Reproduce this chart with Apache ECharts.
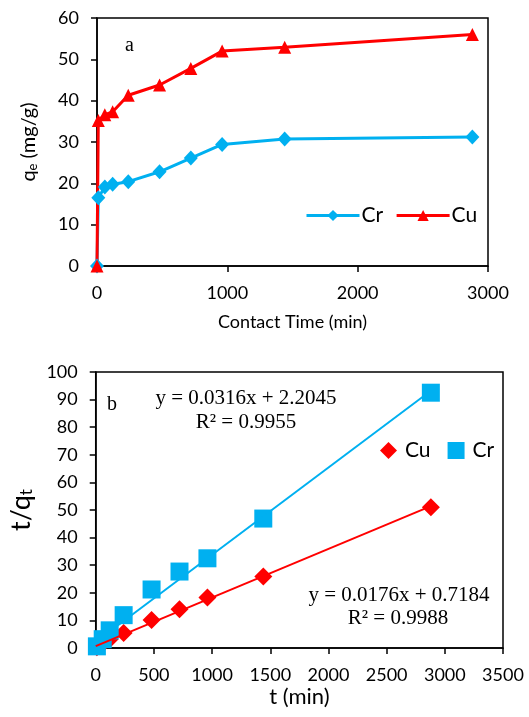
<!DOCTYPE html>
<html><head><meta charset="utf-8">
<script src="https://cdn.jsdelivr.net/npm/echarts@6/dist/echarts.min.js"></script>
<style>html,body{margin:0;padding:0;background:#fff}#c{width:529px;height:717px}</style>
</head><body><div id="c"></div>
<script>
// (a) adsorption kinetics
const timeA = [0, 10, 60, 120, 240, 480, 720, 960, 1440, 2880];
const qCr   = [0, 16.5, 19.1, 19.8, 20.4, 22.8, 26.1, 29.4, 30.7, 31.2];
const qCu   = [0, 35.2, 36.6, 37.3, 41.3, 43.8, 47.8, 52.0, 52.9, 56.0];
// (b) pseudo-second-order t/qt
const timeB = [10, 60, 120, 240, 480, 720, 960, 1440, 2880];
const tqCu  = [0.3, 1.6, 3.2, 5.4, 10.1, 14.0, 18.3, 25.9, 51.0];
const tqCr  = [0.6, 3.2, 6.4, 11.9, 21.2, 27.7, 32.5, 46.9, 92.5];
// trendline end points (as drawn)
const fitX  = [0, 2880];
const fitCu = [0.7, 51.4];
const fitCr = [2.2, 93.2];

const BLUE = '#00B0F0', RED = '#FF0000';
const FONT = 'Lato';
const zip = (a, b) => a.map((v, i) => [v, b[i]]);

const chart = echarts.init(document.getElementById('c'), null, {renderer: 'canvas'});
const axisCommon = {
  axisLine: {show: true, lineStyle: {color: '#000', width: 1.5}},
  axisTick: {show: true, inside: false, length: 6, lineStyle: {color: '#000', width: 1.5}},
  splitLine: {show: false},
  axisLabel: {color: '#000', fontFamily: FONT, fontSize: 18, margin: 18, formatter: v => String(v)}
};
chart.setOption({
  animation: false,
  grid: [
    {left: 97, top: 18, width: 391, height: 248, show: true, borderColor: '#000', borderWidth: 1.5},
    {left: 91, top: 372, width: 412, height: 276, show: true, borderColor: '#000', borderWidth: 1.5}
  ],
  xAxis: [
    Object.assign({}, axisCommon, {gridIndex: 0, type: 'value', min: 0, max: 3000, interval: 1000,
      name: 'Contact Time (min)', nameLocation: 'middle', nameGap: 47,
      nameTextStyle: {fontFamily: FONT, fontSize: 18, color: '#000'}}),
    Object.assign({}, axisCommon, {gridIndex: 1, type: 'value', min: 0, max: 3500, interval: 500,
      name: 't (min)', nameLocation: 'middle', nameGap: 38,
      nameTextStyle: {fontFamily: FONT, fontSize: 22, color: '#000'}})
  ],
  yAxis: [
    Object.assign({}, axisCommon, {gridIndex: 0, type: 'value', min: 0, max: 60, interval: 10,
      name: 'q{sub|e} (mg/g)', nameLocation: 'middle', nameGap: 58,
      nameTextStyle: {fontFamily: FONT, fontSize: 20, color: '#000',
        rich: {sub: {fontFamily: FONT, fontSize: 13, color: '#000', verticalAlign: 'bottom', padding: [8, 0, 0, 0]}}}}),
    Object.assign({}, axisCommon, {gridIndex: 1, type: 'value', min: 0, max: 100, interval: 10,
      name: 't/q{sub|t}', nameLocation: 'middle', nameGap: 50,
      nameTextStyle: {fontFamily: FONT, fontSize: 27, color: '#000',
        rich: {sub: {fontFamily: FONT, fontSize: 17, color: '#000', verticalAlign: 'bottom', padding: [11, 0, 0, 0]}}}})
  ],
  legend: [
    {data: ['Cr', 'Cu'], left: 305, top: 205, padding: 0, itemWidth: 53, itemHeight: 14, itemGap: 12,
      lineStyle: {width: 3},
      textStyle: {fontFamily: FONT, fontSize: 21, color: '#000', padding: [0, 0, 0, -3]}},
    {data: [{name: 'Cu b', icon: 'diamond'}, {name: 'Cr b', icon: 'rect'}], left: 380, top: 440, padding: 0,
      itemWidth: 17, itemHeight: 17, itemGap: 17,
      formatter: n => n.split(' ')[0],
      textStyle: {fontFamily: FONT, fontSize: 21, color: '#000', padding: [0, 0, 0, 3]}}
  ],
  series: [
    {name: 'Cr', type: 'line', xAxisIndex: 0, yAxisIndex: 0, data: zip(timeA, qCr),
      symbol: 'diamond', symbolSize: [14, 15], lineStyle: {color: BLUE, width: 3},
      itemStyle: {color: BLUE}},
    {name: 'Cu', type: 'line', xAxisIndex: 0, yAxisIndex: 0, data: zip(timeA, qCu),
      symbol: 'triangle', symbolSize: 13, lineStyle: {color: RED, width: 3},
      itemStyle: {color: RED}},
    {name: 'Cu b', type: 'scatter', xAxisIndex: 1, yAxisIndex: 1, data: zip(timeB, tqCu),
      symbol: 'diamond', symbolSize: 18, itemStyle: {color: RED, opacity: 1}, z: 3},
    {name: 'Cr b', type: 'scatter', xAxisIndex: 1, yAxisIndex: 1, data: zip(timeB, tqCr),
      symbol: 'rect', symbolSize: 18, itemStyle: {color: BLUE, opacity: 1}, z: 3},
    {name: 'Cu fit', type: 'line', xAxisIndex: 1, yAxisIndex: 1, data: zip(fitX, fitCu),
      symbol: 'none', lineStyle: {color: RED, width: 2}, z: 5},
    {name: 'Cr fit', type: 'line', xAxisIndex: 1, yAxisIndex: 1, data: zip(fitX, fitCr),
      symbol: 'none', lineStyle: {color: BLUE, width: 2}, z: 5}
  ],
  graphic: [
    {type: 'text', left: 125, top: 36, style: {text: 'a', font: '20px "Liberation Serif"', fill: '#000'}},
    {type: 'text', left: 107, top: 395, style: {text: 'b', font: '20px "Liberation Serif"', fill: '#000'}},
    {type: 'text', x: 246, y: 398, style: {text: 'y = 0.0316x + 2.2045', font: '21px "Liberation Serif"', fill: '#000', align: 'center', verticalAlign: 'middle'}},
    {type: 'text', x: 246, y: 422, style: {text: 'R² = 0.9955', font: '21px "Liberation Serif"', fill: '#000', align: 'center', verticalAlign: 'middle'}},
    {type: 'text', x: 399, y: 595, style: {text: 'y = 0.0176x + 0.7184', font: '21px "Liberation Serif"', fill: '#000', align: 'center', verticalAlign: 'middle'}},
    {type: 'text', x: 398, y: 618, style: {text: 'R² = 0.9988', font: '21px "Liberation Serif"', fill: '#000', align: 'center', verticalAlign: 'middle'}}
  ]
});
</script></body></html>
